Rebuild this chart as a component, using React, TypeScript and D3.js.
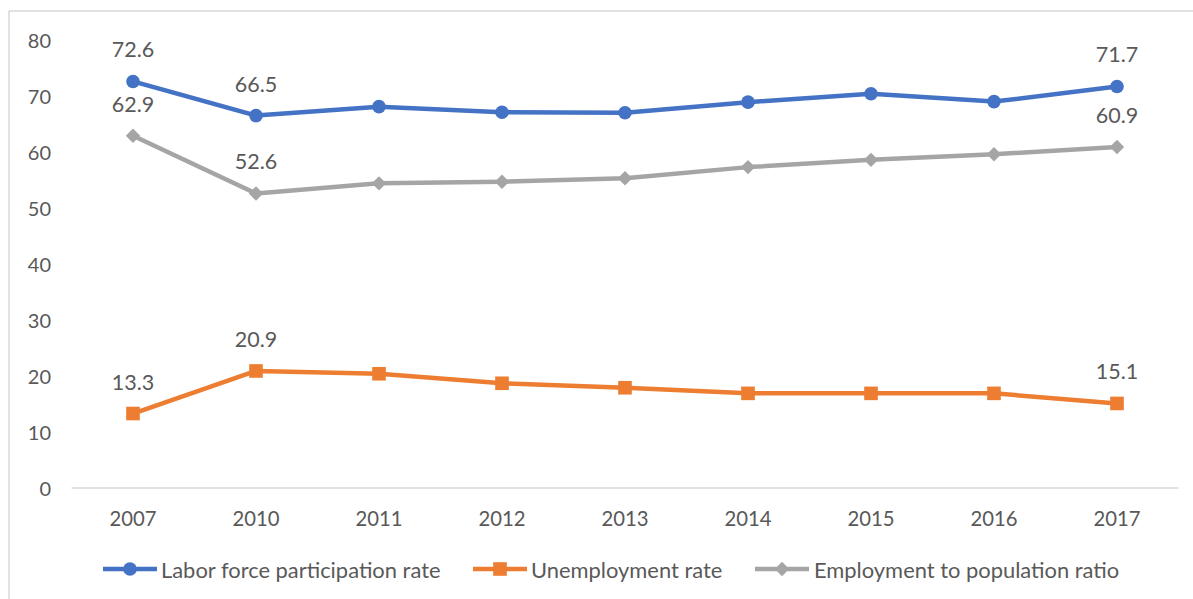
import React from "react";
import * as d3 from "d3";

const years = ["2007", "2010", "2011", "2012", "2013", "2014", "2015", "2016", "2017"];
const laborForce = [72.6, 66.5, 68.1, 67.1, 67.0, 68.9, 70.4, 69.0, 71.7];
const unemployment = [13.3, 20.9, 20.4, 18.7, 17.9, 16.9, 16.9, 16.9, 15.1];
const employmentRatio = [62.9, 52.6, 54.4, 54.7, 55.3, 57.3, 58.6, 59.6, 60.9];
const yTicks = [0, 10, 20, 30, 40, 50, 60, 70, 80];
const labeledIndices = [0, 1, 8];

const seriesNames = ["Labor force participation rate", "Unemployment rate", "Employment to population ratio"];
const seriesColors = ["#4472C4", "#ED7D31", "#A5A5A5"];
const seriesMarkers = ["circle", "square", "diamond"];
const seriesValues = [laborForce, unemployment, employmentRatio];

const W = 1193;
const H = 599;
const plotLeft = 71.5;
const plotRight = 1178.5;
const plotTop = 40;
const plotBottom = 488;
const FONT = "Lato, 'Liberation Sans', Arial, sans-serif";
const TEXT = "#595959";

function Marker({ type, x, y, color }: { type: string; x: number; y: number; color: string }) {
  if (type === "circle") return <circle cx={x} cy={y} r={6.8} fill={color} />;
  if (type === "square") return <rect x={x - 6.8} y={y - 6.8} width={13.6} height={13.6} fill={color} />;
  const s = 7.2;
  return <path d={`M${x},${y - s}L${x + s},${y}L${x},${y + s}L${x - s},${y}Z`} fill={color} />;
}

export default function App() {
  const x = d3.scaleBand<string>().domain(years).range([plotLeft, plotRight]);
  const cx = (yr: string) => (x(yr) as number) + x.bandwidth() / 2;
  const y = d3.scaleLinear().domain([0, 80]).range([plotBottom, plotTop]);
  const line = d3
    .line<number>()
    .x((_, i) => cx(years[i]))
    .y((v) => y(v));

  const legendItems = [
    { sx: 103, tx: 161 },
    { sx: 473, tx: 531 },
    { sx: 755, tx: 814 },
  ];

  return (
    <svg
      width={W}
      height={H}
      style={{ position: "absolute", left: 0, top: 0, display: "block", background: "#fff" }}
      fontFamily={FONT}
    >
      <rect x={0} y={0} width={W} height={H} fill="#fff" />
      <line x1={9} y1={11} x2={9} y2={H} stroke="#d9d9d9" strokeWidth={1.5} />
      <line x1={9} y1={11} x2={W} y2={11} stroke="#d9d9d9" strokeWidth={1.5} />

      {yTicks.map((t) => (
        <text key={t} x={51} y={y(t)} textAnchor="end" dominantBaseline="central" fontSize={20} fill={TEXT}>
          {t}
        </text>
      ))}

      <line x1={plotLeft} x2={plotRight} y1={y(0)} y2={y(0)} stroke="#d9d9d9" strokeWidth={1.3} />

      {years.map((yr) => (
        <text key={yr} x={cx(yr)} y={518} textAnchor="middle" dominantBaseline="central" fontSize={20.3} fill={TEXT}>
          {yr}
        </text>
      ))}

      {seriesValues.map((vals, si) => (
        <g key={si}>
          <path d={line(vals) as string} fill="none" stroke={seriesColors[si]} strokeWidth={4.5} strokeLinejoin="round" />
          {vals.map((v, i) => (
            <Marker key={i} type={seriesMarkers[si]} x={cx(years[i])} y={y(v)} color={seriesColors[si]} />
          ))}
          {labeledIndices.map((i) => (
            <text
              key={"l" + i}
              x={cx(years[i])}
              y={y(vals[i]) - 32}
              textAnchor="middle"
              dominantBaseline="central"
              fontSize={21.5}
              fill={TEXT}
            >
              {vals[i].toFixed(1)}
            </text>
          ))}
        </g>
      ))}

      {seriesNames.map((name, si) => (
        <g key={name}>
          <line
            x1={legendItems[si].sx}
            x2={legendItems[si].sx + 54}
            y1={569}
            y2={569}
            stroke={seriesColors[si]}
            strokeWidth={4.5}
          />
          <Marker type={seriesMarkers[si]} x={legendItems[si].sx + 27} y={569} color={seriesColors[si]} />
          <text x={legendItems[si].tx} y={569} dominantBaseline="central" fontSize={21.9} fill={TEXT}>
            {name}
          </text>
        </g>
      ))}
    </svg>
  );
}
